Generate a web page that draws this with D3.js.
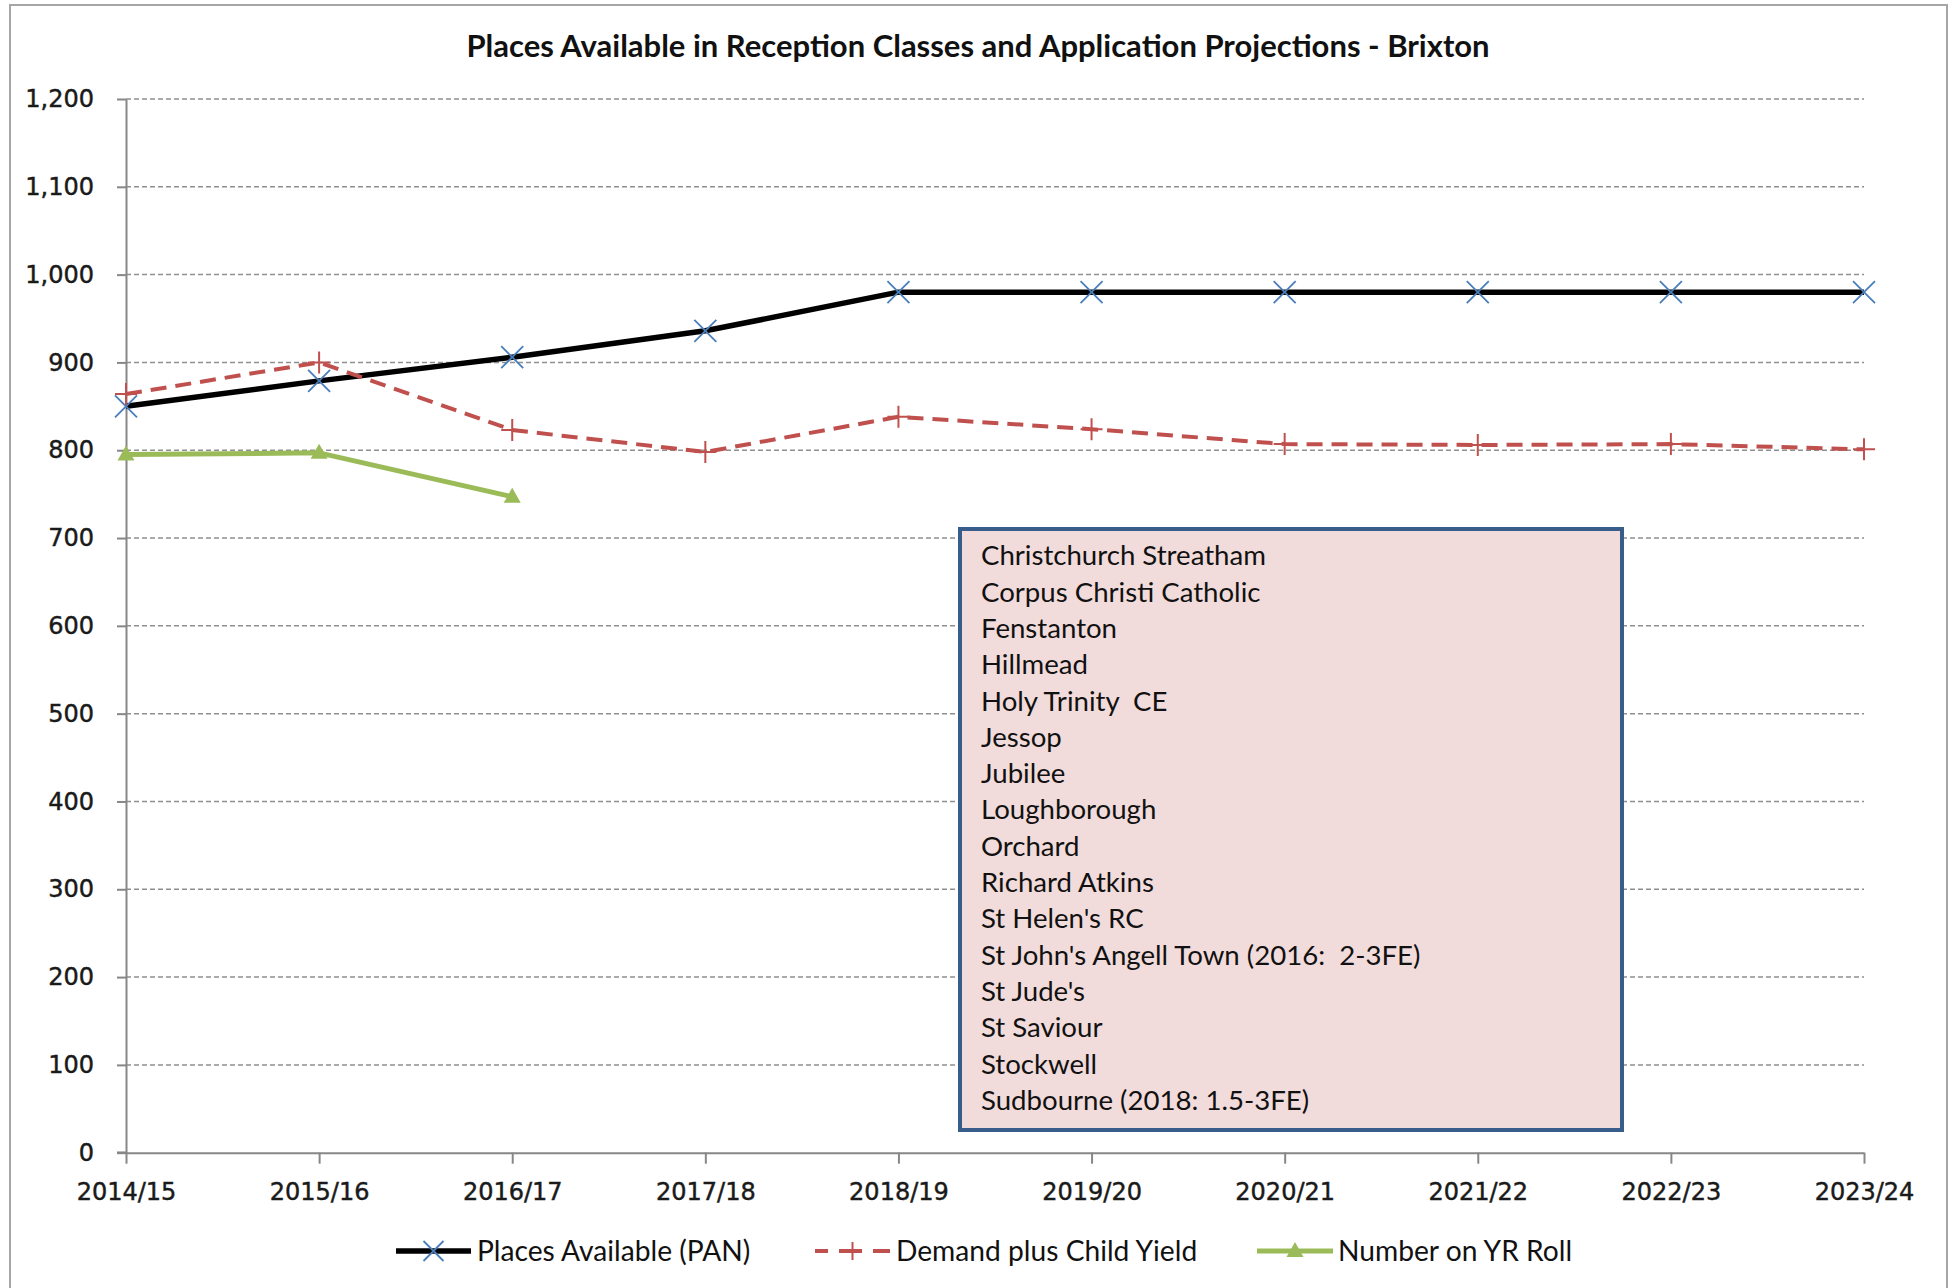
<!DOCTYPE html>
<html>
<head>
<meta charset="utf-8">
<script src="https://cdn.jsdelivr.net/npm/d3@7"></script>
<style>
  html, body { margin: 0; padding: 0; background: #fff; }
  svg { display: block; }
  .axis text { font-family: "DejaVu Sans", Verdana, sans-serif; font-size: 24px; fill: #1a1a1a; stroke: #1a1a1a; stroke-width: 0.45; }
  .axis path, .axis line { stroke: #878787; stroke-width: 2; }
  .cal { font-family: Lato, "Open Sans", sans-serif; fill: #111; }
</style>
</head>
<body>
<div id="chart"></div>
<script>
// chart values
var years = ["2014/15", "2015/16", "2016/17", "2017/18", "2018/19",
  "2019/20", "2020/21", "2021/22", "2022/23", "2023/24"];
var placesAvailable = [850, 879, 906, 936, 980, 980, 980, 980, 980, 980];
var demandChildYield = [864, 900, 823, 798, 838, 824, 807, 806, 807, 801];
var yrRoll = [795, 797, 747];
var yTicks = [0, 100, 200, 300, 400, 500, 600, 700, 800, 900, 1000, 1100, 1200];
var seriesNames = ["Places Available (PAN)", "Demand plus Child Yield", "Number on YR Roll"];
var schools = [
  "Christchurch Streatham",
  "Corpus Christi Catholic",
  "Fenstanton",
  "Hillmead",
  "Holy Trinity  CE",
  "Jessop",
  "Jubilee",
  "Loughborough",
  "Orchard",
  "Richard Atkins",
  "St Helen's RC",
  "St John's Angell Town (2016:  2-3FE)",
  "St Jude's",
  "St Saviour",
  "Stockwell",
  "Sudbourne (2018: 1.5-3FE)"
];
var chartTitle = "Places Available in Reception Classes and Application Projections - Brixton";

var svgWidth = 1952;
var svgHeight = 1288;
var plot = { left: 126, right: 1864, top: 99, bottom: 1152.7 };

var svg = d3.select("#chart")
  .append("svg")
  .attr("width", svgWidth)
  .attr("height", svgHeight);

// outer frame of the chart
svg.append("rect")
  .attr("x", 10).attr("y", 5)
  .attr("width", 1937).attr("height", 1300)
  .attr("fill", "#fff")
  .attr("stroke", "#a6a6a6")
  .attr("stroke-width", 2);

var x = d3.scalePoint().domain(years).range([plot.left, plot.right]);
var y = d3.scaleLinear().domain([0, 1200]).range([plot.bottom, plot.top]);

// gridlines
svg.append("g")
  .selectAll("line")
  .data(yTicks.filter(d => d > 0))
  .enter()
  .append("line")
  .attr("x1", plot.left).attr("x2", plot.right)
  .attr("y1", d => y(d)).attr("y2", d => y(d))
  .attr("stroke", "#8f8f8f")
  .attr("stroke-width", 1.5)
  .attr("stroke-dasharray", "5,3");

// y axis
svg.append("g")
  .attr("class", "axis")
  .attr("transform", `translate(${plot.left},0)`)
  .call(d3.axisLeft(y).tickValues(yTicks).tickFormat(d3.format(","))
    .tickSize(9).tickSizeOuter(0).tickPadding(23));

// x axis
svg.append("g")
  .attr("class", "axis")
  .attr("transform", `translate(0,${plot.bottom})`)
  .call(d3.axisBottom(x).tickSize(11).tickSizeOuter(0).tickPadding(19));

svg.selectAll(".axis .domain").attr("stroke", "#878787").attr("stroke-width", 2.5);

// x axis line runs out to the left tick
svg.append("line")
  .attr("x1", plot.left - 9).attr("x2", plot.left)
  .attr("y1", plot.bottom).attr("y2", plot.bottom)
  .attr("stroke", "#878787").attr("stroke-width", 2.5);

// marker shapes
function xMark(s) { return `M${-s},${-s}L${s},${s}M${-s},${s}L${s},${-s}`; }
function plusMark(s) { return `M${-s},0L${s},0M0,${-s}L0,${s}`; }
function triMark(w, h) { return `M0,${-h * 0.6}L${w / 2},${h * 0.4}L${-w / 2},${h * 0.4}Z`; }

var line = d3.line()
  .x((d, i) => x(years[i]))
  .y(d => y(d));

// Places Available (PAN)
svg.append("path")
  .datum(placesAvailable)
  .attr("d", line)
  .attr("fill", "none")
  .attr("stroke", "#000")
  .attr("stroke-width", 5.5)
  .attr("stroke-linejoin", "round");

svg.append("g")
  .selectAll("path")
  .data(placesAvailable)
  .enter()
  .append("path")
  .attr("transform", (d, i) => `translate(${x(years[i])},${y(d)})`)
  .attr("d", xMark(11))
  .attr("stroke", "#4a7ebb")
  .attr("stroke-width", 1.8)
  .attr("fill", "none");

// Demand plus Child Yield
svg.append("path")
  .datum(demandChildYield)
  .attr("d", line)
  .attr("fill", "none")
  .attr("stroke", "#c0504d")
  .attr("stroke-width", 4)
  .attr("stroke-dasharray", "16,9");

svg.append("g")
  .selectAll("path")
  .data(demandChildYield)
  .enter()
  .append("path")
  .attr("transform", (d, i) => `translate(${x(years[i])},${y(d)})`)
  .attr("d", plusMark(11))
  .attr("stroke", "#c0504d")
  .attr("stroke-width", 2)
  .attr("fill", "none");

// Number on YR Roll
svg.append("path")
  .datum(yrRoll)
  .attr("d", line)
  .attr("fill", "none")
  .attr("stroke", "#9bbb59")
  .attr("stroke-width", 5)
  .attr("stroke-linejoin", "round");

svg.append("g")
  .selectAll("path")
  .data(yrRoll)
  .enter()
  .append("path")
  .attr("transform", (d, i) => `translate(${x(years[i])},${y(d)})`)
  .attr("d", triMark(17, 15))
  .attr("fill", "#9bbb59");

// title
svg.append("text")
  .attr("class", "cal")
  .attr("x", 978).attr("y", 56.5)
  .attr("text-anchor", "middle")
  .attr("font-size", 31)
  .attr("font-weight", "bold")
  .text(chartTitle);

// box with the list of schools
var box = svg.append("g");
box.append("rect")
  .attr("x", 960).attr("y", 529)
  .attr("width", 662).attr("height", 601)
  .attr("fill", "#f2dcdb")
  .attr("stroke", "#385d8a")
  .attr("stroke-width", 4);

box.selectAll("text")
  .data(schools)
  .enter()
  .append("text")
  .attr("class", "cal")
  .attr("x", 981)
  .attr("y", (d, i) => 565.3 + i * 36.3)
  .attr("font-size", 27.6)
  .attr("xml:space", "preserve")
  .text(d => d);

// legend
var legendY = 1251;
var legendItems = [
  { x0: 396, x1: 471, tx: 477 },
  { x0: 815, x1: 890, tx: 896 },
  { x0: 1257, x1: 1333, tx: 1338 }
];
var legend = svg.append("g");

legend.append("line")
  .attr("x1", legendItems[0].x0).attr("x2", legendItems[0].x1)
  .attr("y1", legendY).attr("y2", legendY)
  .attr("stroke", "#000").attr("stroke-width", 5.5);
legend.append("path")
  .attr("transform", `translate(${(legendItems[0].x0 + legendItems[0].x1) / 2},${legendY})`)
  .attr("d", xMark(10))
  .attr("stroke", "#4a7ebb").attr("stroke-width", 1.8).attr("fill", "none");

legend.append("line")
  .attr("x1", legendItems[1].x0).attr("x2", legendItems[1].x1)
  .attr("y1", legendY).attr("y2", legendY)
  .attr("stroke", "#c0504d").attr("stroke-width", 4)
  .attr("stroke-dasharray", "13,11,23,11,17");
legend.append("path")
  .attr("transform", `translate(${(legendItems[1].x0 + legendItems[1].x1) / 2},${legendY})`)
  .attr("d", plusMark(9))
  .attr("stroke", "#c0504d").attr("stroke-width", 2).attr("fill", "none");

legend.append("line")
  .attr("x1", legendItems[2].x0).attr("x2", legendItems[2].x1)
  .attr("y1", legendY).attr("y2", legendY)
  .attr("stroke", "#9bbb59").attr("stroke-width", 5);
legend.append("path")
  .attr("transform", `translate(${(legendItems[2].x0 + legendItems[2].x1) / 2},${legendY})`)
  .attr("d", triMark(17, 15))
  .attr("fill", "#9bbb59");

legend.selectAll("text")
  .data(seriesNames)
  .enter()
  .append("text")
  .attr("class", "cal")
  .attr("x", (d, i) => legendItems[i].tx)
  .attr("y", legendY + 10)
  .attr("font-size", 28.2)
  .text(d => d);
</script>
</body>
</html>
